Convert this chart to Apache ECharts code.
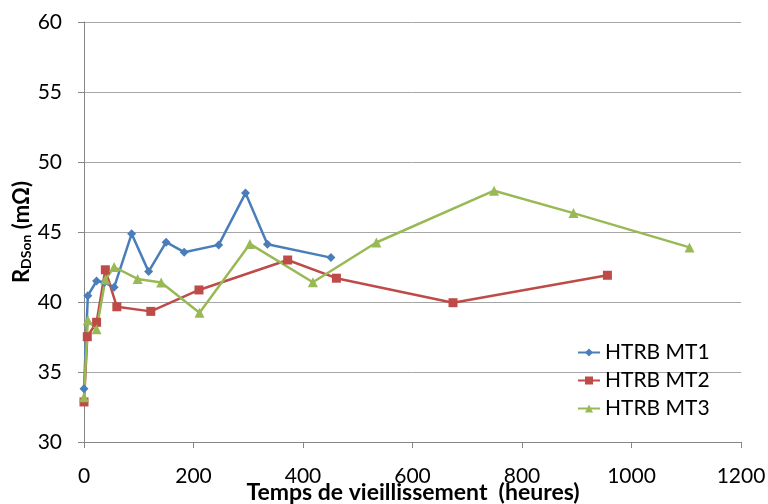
<!DOCTYPE html>
<html>
<head>
<meta charset="utf-8">
<script src="https://cdn.jsdelivr.net/npm/echarts@6/dist/echarts.min.js"></script>
<style>html,body{margin:0;padding:0;background:#fff;overflow:hidden}#c{width:768px;height:504px}</style>
</head>
<body>
<div id="c"></div>
<script>
var seriesNames = ["HTRB MT1", "HTRB MT2", "HTRB MT3"];
var xTitle = "Temps de vieillissement  (heures)";
var yTitle = "R{sub|DSon} (mΩ)";
var mt1Hours = [0, 7, 23, 37, 55, 87, 118, 150, 183, 246, 295, 335, 451];
var mt1Values = [33.8, 40.45, 41.5, 41.4, 41.05, 44.87, 42.17, 44.27, 43.56, 44.08, 47.78, 44.13, 43.17];
var mt2Hours = [0, 6, 23, 39, 60, 122, 210, 372, 461, 674, 956];
var mt2Values = [32.86, 37.52, 38.55, 42.3, 39.66, 39.33, 40.86, 43.0, 41.7, 39.95, 41.91];
var mt3Hours = [0, 7, 23, 39, 55, 98, 141, 211, 303, 418, 534, 749, 894, 1106];
var mt3Values = [33.2, 38.7, 38.05, 41.6, 42.5, 41.65, 41.4, 39.23, 44.15, 41.41, 44.25, 47.95, 46.35, 43.9];

function pairs(xs, ys) { return xs.map(function (x, i) { return [x, ys[i]]; }); }

var font = "Lato, 'Open Sans', sans-serif";
var chart = echarts.init(document.getElementById('c'), null, {renderer: 'canvas'});
chart.setOption({
  animation: false,
  backgroundColor: '#ffffff',
  grid: {left: 84, right: 27, top: 22, bottom: 62, containLabel: false, outerBoundsMode: 'none'},
  legend: {
    orient: 'vertical', left: 572, top: 337, itemWidth: 22, itemHeight: 10, itemGap: 7,
    textStyle: {fontFamily: font, fontSize: 21, color: '#000'},
    data: seriesNames
  },
  graphic: [
    {type: 'text', x: 413, y: 493, silent: true,
     style: {text: xTitle, fontFamily: font, fontSize: 23, fontWeight: 'bold', fill: '#000', align: 'center', verticalAlign: 'middle'}},
    {type: 'text', x: 22, y: 232, rotation: Math.PI / 2, silent: true,
     style: {text: yTitle, fontFamily: font, fontSize: 22, fontWeight: 'bold', fill: '#000', align: 'center', verticalAlign: 'middle',
       rich: {sub: {fontFamily: font, fontSize: 14, fontWeight: 'bold', fill: '#000', verticalAlign: 'bottom', padding: [9, 0, 0, 0]}}}}
  ],
  xAxis: {
    type: 'value', min: 0, max: 1200, interval: 200,
    axisLine: {onZero: false, lineStyle: {color: '#868686', width: 1}},
    axisTick: {show: true, inside: false, length: 6, lineStyle: {color: '#868686'}},
    axisLabel: {fontFamily: font, fontSize: 21, color: '#000', margin: 24, formatter: function (v) { return String(v); }},
    splitLine: {show: false}
  },
  yAxis: {
    type: 'value', min: 30, max: 60, interval: 5,
    axisLine: {show: true, lineStyle: {color: '#868686', width: 1}},
    axisTick: {show: true, inside: false, length: 6, lineStyle: {color: '#868686'}},
    axisLabel: {fontFamily: font, fontSize: 21, color: '#000', margin: 22},
    splitLine: {show: true, lineStyle: {color: '#a6a6a6', width: 1}}
  },
  series: [
    {name: seriesNames[0], type: 'line', data: pairs(mt1Hours, mt1Values), symbol: 'diamond', symbolSize: 9,
     lineStyle: {color: '#4a7ebb', width: 2.5}, itemStyle: {color: '#4a7ebb'}},
    {name: seriesNames[1], type: 'line', data: pairs(mt2Hours, mt2Values), symbol: 'rect', symbolSize: 9,
     lineStyle: {color: '#be4b48', width: 2.5}, itemStyle: {color: '#be4b48'}},
    {name: seriesNames[2], type: 'line', data: pairs(mt3Hours, mt3Values), symbol: 'triangle', symbolSize: 10,
     lineStyle: {color: '#98b954', width: 2.5}, itemStyle: {color: '#98b954'}}
  ]
});
</script>
</body>
</html>
